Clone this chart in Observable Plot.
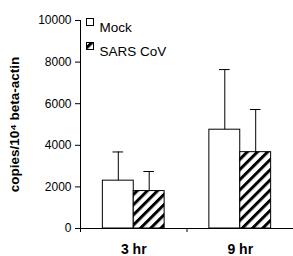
<!DOCTYPE html>
<html>
<head>
<meta charset="utf-8">
<script src="https://cdn.jsdelivr.net/npm/d3@7"></script>
<script src="https://cdn.jsdelivr.net/npm/@observablehq/plot@0.6"></script>
<style>
  html, body { margin: 0; padding: 0; background: #fff; }
</style>
</head>
<body>
<div id="chart"></div>
<script>
const times = ["3 hr", "9 hr"];
const series = ["Mock", "SARS CoV"];
const mockMean = [2300, 4750];
const mockUpper = [3680, 7640];
const sarsMean = [1800, 3670];
const sarsUpper = [2740, 5720];
const yTicks = [0, 2000, 4000, 6000, 8000, 10000];
const yLabel = "copies/10\u2074 beta-actin";

const barW = 0.29;
const capHalf = 0.05;
const rows = [];
times.forEach((t, i) => {
  rows.push({time: t, series: series[0], x1: i + 0.5 - barW, x2: i + 0.5, mean: mockMean[i], upper: mockUpper[i]});
  rows.push({time: t, series: series[1], x1: i + 0.5, x2: i + 0.5 + barW, mean: sarsMean[i], upper: sarsUpper[i]});
});
rows.forEach(d => { d.xc = (d.x1 + d.x2) / 2; });
const cats = times.map((t, i) => ({time: t, xc: i + 0.5}));
const fillFor = s => s === series[0] ? "white" : "url(#hatch)";

const font = "'Liberation Sans', Arial, sans-serif";

const plot = Plot.plot({
  width: 293,
  height: 256,
  marginLeft: 80,
  marginRight: 0,
  marginTop: 20,
  marginBottom: 28,
  style: {fontFamily: font, fontSize: "12px", color: "black", background: "white", overflow: "visible"},
  x: {domain: [0, times.length], axis: null},
  y: {domain: [0, 10000], axis: null},
  marks: [
    Plot.rectY(rows, {x1: "x1", x2: "x2", y1: 0, y2: "mean", fill: d => fillFor(d.series), stroke: "black", strokeWidth: 1}),
    Plot.ruleX(rows, {x: "xc", y1: "mean", y2: "upper", stroke: "black", strokeWidth: 1}),
    Plot.ruleY(rows, {y: "upper", x1: d => d.xc - capHalf, x2: d => d.xc + capHalf, stroke: "black", strokeWidth: 1}),
    Plot.ruleX([0], {y1: 0, y2: 10000, stroke: "black"}),
    Plot.ruleY([0], {stroke: "black"}),
    Plot.axisY({ticks: yTicks, tickSize: 5, tickPadding: 4, tickFormat: d => String(d), label: null, fontSize: 12}),
    Plot.axisX({ticks: d3.range(times.length + 1), tickSize: 4, tickFormat: () => "", label: null}),
    Plot.text(cats, {x: "xc", y: 0, text: "time", dy: 21, fontWeight: "bold", fontSize: 14}),
    Plot.text([yLabel], {frameAnchor: "left", dx: -66, rotate: -90, textAnchor: "middle", lineAnchor: "middle", fontWeight: "bold", fontSize: 13.5, text: d => d}),
    // legend
    Plot.text([series[0]], {frameAnchor: "top-left", dx: 19, dy: 2, text: d => d, textAnchor: "start", fontSize: 13.5}),
    Plot.text([series[1]], {frameAnchor: "top-left", dx: 19, dy: 26, text: d => d, textAnchor: "start", fontSize: 13.5})
  ]
});

const svg = d3.select(plot);
const defs = svg.insert("defs", ":first-child");
const pat = defs.append("pattern")
  .attr("id", "hatch").attr("patternUnits", "userSpaceOnUse")
  .attr("width", 7.2).attr("height", 7.2)
  .attr("patternTransform", "rotate(45)");
pat.append("rect").attr("width", 7.2).attr("height", 7.2).attr("fill", "white");
pat.append("rect").attr("width", 3).attr("height", 7.2).attr("fill", "black");

// legend swatches
const sw = svg.append("g");
[[series[0], 22], [series[1], 46]].forEach(([s, cy]) => {
  sw.append("rect").attr("x", 86.5).attr("y", cy - 3.5).attr("width", 7).attr("height", 7)
    .attr("fill", fillFor(s)).attr("stroke", "black").attr("stroke-width", 1);
});
document.getElementById("chart").appendChild(plot);
</script>
</body>
</html>
